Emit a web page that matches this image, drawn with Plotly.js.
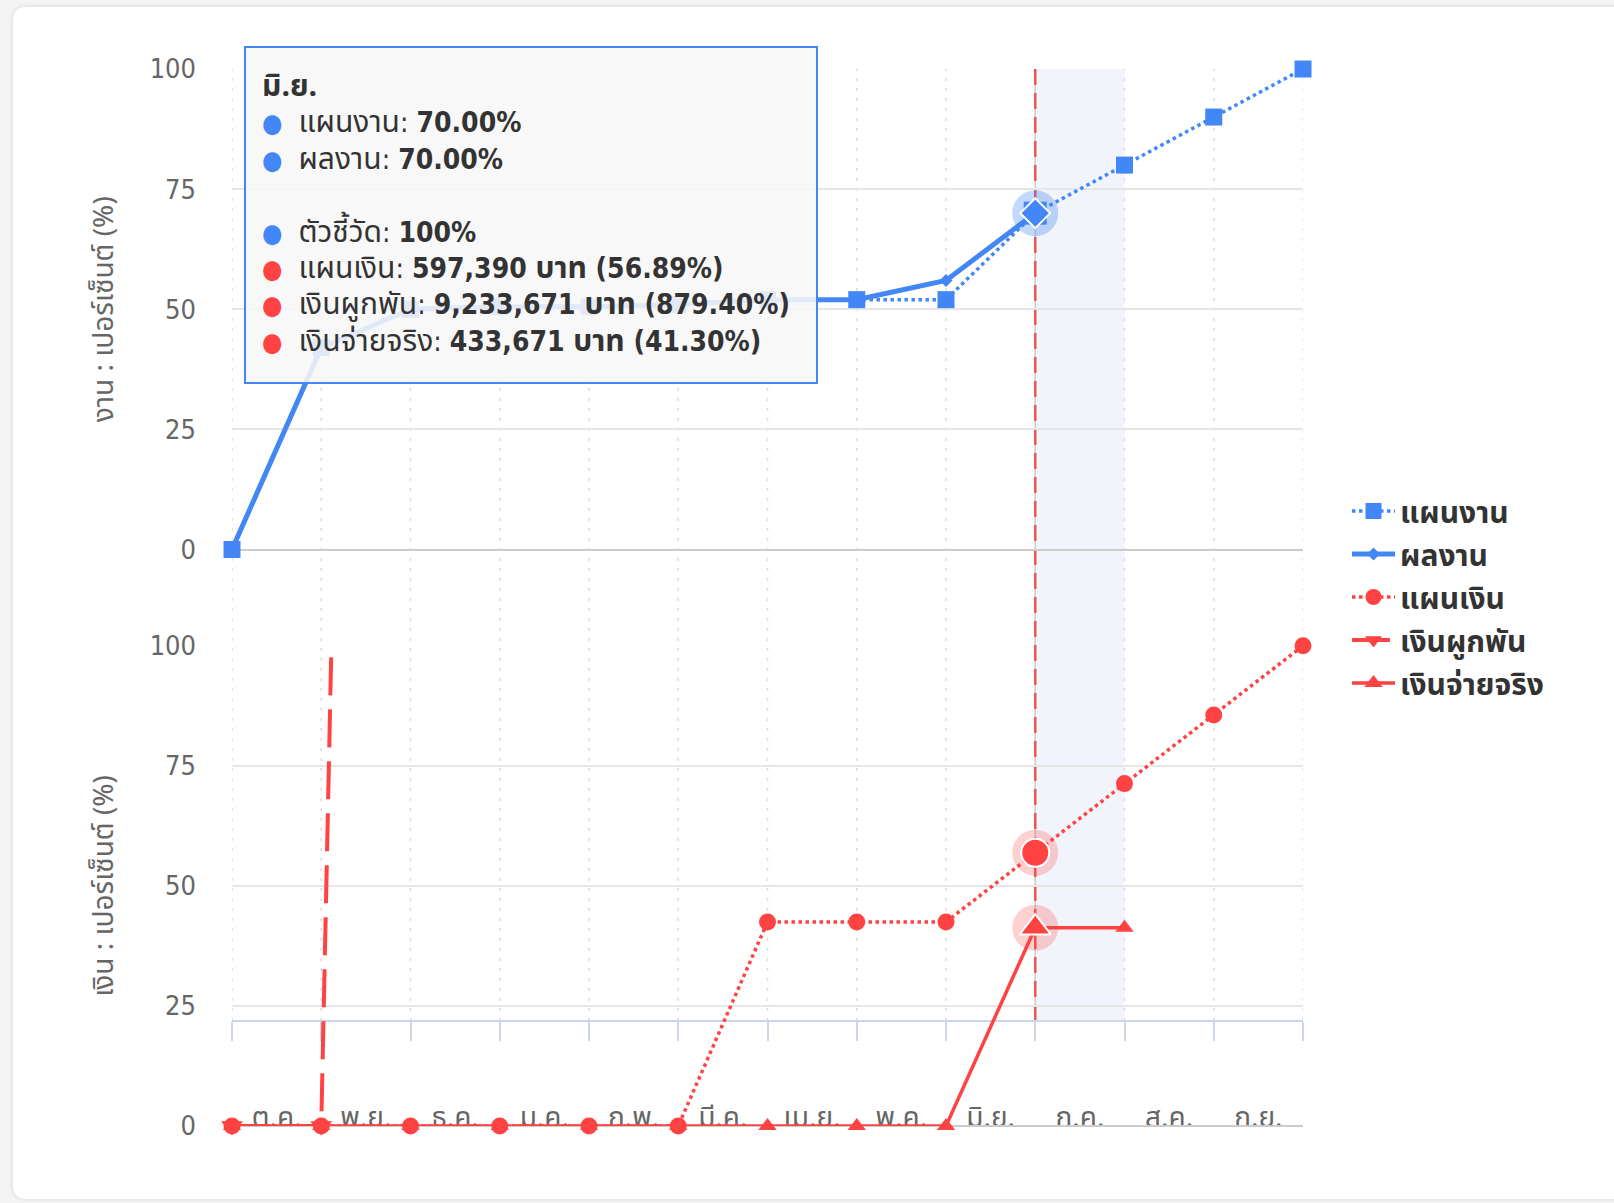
<!DOCTYPE html>
<html><head><meta charset="utf-8">
<script src="https://cdn.plot.ly/plotly-3.0.1.min.js"></script>
<style>
html,body{margin:0;padding:0;background:#f4f4f4;overflow:hidden;}
#card{position:absolute;left:13px;top:7px;width:1660px;height:1192px;background:#fff;border-radius:12px;box-shadow:0 0 5px rgba(0,0,0,0.13);}
#chart{position:absolute;left:0;top:0;width:1614px;height:1203px;}
</style></head><body>
<div id="card"></div><div id="chart"></div>
<script>
// ---- data ----
const months = ['ต.ค.','พ.ย.','ธ.ค.','ม.ค.','ก.พ.','มี.ค.','เม.ย.','พ.ค.','มิ.ย.','ก.ค.','ส.ค.','ก.ย.'];
const steps = [0,1,2,3,4,5,6,7,8,9,10,11,12];
const workPlan   = [0,42,50,50.5,50.5,51,52,52,52,70,80,90,100];
const workActual = [0,42,50,50.5,50.5,51,52,52,56,70];
const moneyPlan      = [0,0,0,0,0,0,42.5,42.5,42.5,56.89,71.3,85.6,100];
const moneyCommitted = [0,0,879.4,879.4,879.4,879.4,879.4,879.4,879.4,879.4];
const moneyPaid      = [0,0,0,0,0,0,0,0,0,41.3,41.3];
const yTicks = [0,25,50,75,100];
const seriesNames = ['แผนงาน','ผลงาน','แผนเงิน','เงินผูกพัน','เงินจ่ายจริง'];
const hoverIndex = 9;
const tipMonth = 'มิ.ย.';
const tipIndicatorLabel = 'ตัวชี้วัด';
const tipIndicator = 100;
const tipMoneyPlanBaht = 597390;
const tipCommittedBaht = 9233671;
const tipPaidBaht = 433671;
const currency = 'บาท';

// ---- geometry helpers ----
const L=232, R=1303, T=69, B=1126;
const px2x = p => (p-L)/(R-L);
const px2y = p => (B-p)/(B-T);
const BLUE='#4287f5', RED='#ff4242';
const FONT="'DejaVu Sans Condensed', 'DejaVu Sans', 'Noto Sans Thai', Tahoma, 'Noto Sans', sans-serif";
const THAI="'Noto Sans Thai', Tahoma, 'Noto Sans', sans-serif";

const traces = [
  {name:seriesNames[0], x:steps, y:workPlan, yaxis:'y', mode:'lines+markers', cliponaxis:false,
   line:{color:BLUE,width:3.5,dash:'dot'}, marker:{symbol:'square',size:17,color:BLUE},
   legendrank:1, legendgroup:'a'},
  {name:seriesNames[1], x:steps.slice(0,workActual.length), y:workActual, yaxis:'y', mode:'lines+markers', cliponaxis:false,
   line:{color:BLUE,width:5}, marker:{symbol:'diamond',size:10,color:BLUE},
   legendrank:2, legendgroup:'b'},
  {x:[steps[hoverIndex]], y:[workActual[hoverIndex]], yaxis:'y', mode:'markers', cliponaxis:false, showlegend:false,
   marker:{symbol:'circle',size:46,color:'rgba(66,135,245,0.32)'}, hoverinfo:'skip'},
  {x:[steps[hoverIndex]], y:[workPlan[hoverIndex]], yaxis:'y', mode:'markers', cliponaxis:false, showlegend:false,
   marker:{symbol:'square',size:23,color:BLUE}, hoverinfo:'skip'},
  {x:[steps[hoverIndex]], y:[workActual[hoverIndex]], yaxis:'y', mode:'markers', cliponaxis:false, showlegend:false,
   marker:{symbol:'diamond',size:23,color:BLUE,line:{color:'#fff',width:2}}, hoverinfo:'skip'},

  {name:seriesNames[4], x:steps.slice(0,moneyPaid.length), y:moneyPaid, yaxis:'y2', mode:'lines+markers', cliponaxis:false,
   line:{color:RED,width:3.5}, marker:{symbol:'triangle-up',size:16,color:RED},
   legendrank:5, legendgroup:'e'},
  {name:seriesNames[2], x:steps, y:moneyPlan, yaxis:'y2', mode:'lines+markers', cliponaxis:false,
   line:{color:RED,width:3.5,dash:'dot'}, marker:{symbol:'circle',size:17,color:RED},
   legendrank:3, legendgroup:'c'},
  {name:seriesNames[3], x:steps.slice(0,moneyCommitted.length), y:moneyCommitted, yaxis:'y2', mode:'lines+markers', cliponaxis:true,
   line:{color:RED,width:4,dash:'38px,14px'}, marker:{symbol:'triangle-down',size:15,color:RED},
   legendrank:4, legendgroup:'d'},
  {x:steps.slice(0,moneyCommitted.length), y:moneyCommitted.map(v => v<=100 ? v : null), yaxis:'y2', mode:'markers', cliponaxis:false, showlegend:false,
   marker:{symbol:'triangle-down',size:19,color:RED}, hoverinfo:'skip'},
  {x:[steps[hoverIndex],steps[hoverIndex]], y:[moneyPlan[hoverIndex],moneyPaid[hoverIndex]], yaxis:'y2', mode:'markers', cliponaxis:false, showlegend:false,
   marker:{symbol:'circle',size:46,color:'rgba(255,66,66,0.25)'}, hoverinfo:'skip'},
  {x:[steps[hoverIndex]], y:[moneyPlan[hoverIndex]], yaxis:'y2', mode:'markers', cliponaxis:false, showlegend:false,
   marker:{symbol:'circle',size:28,color:RED,line:{color:'#fff',width:2}}, hoverinfo:'skip'},
  {x:[steps[hoverIndex]], y:[moneyPaid[hoverIndex]], yaxis:'y2', mode:'markers', cliponaxis:false, showlegend:false,
   marker:{symbol:'triangle-up',size:27,color:RED,line:{color:'#fff',width:2}}, hoverinfo:'skip'}
];

// shapes: band, vertical dotted grid, crosshair
const shapes = [];
shapes.push({type:'rect', xref:'x', yref:'paper', x0:steps[hoverIndex], x1:steps[hoverIndex+1],
  y0:px2y(1021), y1:px2y(T), fillcolor:'#f1f4fa', line:{width:0}, layer:'below'});
steps.forEach(s => {
  shapes.push({type:'line', xref:'x', yref:'paper', x0:s, x1:s, y0:px2y(1021), y1:px2y(T),
    line:{color:'#dcdcdc', width:1.5, dash:'3px,7px'}, layer:'below'});
});
shapes.push({type:'line', xref:'x', yref:'paper', x0:steps[hoverIndex], x1:steps[hoverIndex], y0:px2y(1021), y1:px2y(T),
  line:{color:'#cccccc', width:1.5}, layer:'below'});
shapes.push({type:'line', xref:'x', yref:'paper', x0:steps[hoverIndex], x1:steps[hoverIndex], y0:px2y(1021), y1:px2y(T),
  line:{color:'rgba(240,60,60,0.85)', width:2.5, dash:'16px,8px'}, layer:'below'});

const fmt = n => n.toLocaleString('en-US');
const dot = c => `<span style="color:${c};font-size:26px">●</span>`;
const th = s => `<span style="font-family:${THAI.replace(/'/g,'')};font-size:30px">${s}</span>`;
const tipText = [
  `<b>${th(tipMonth)}</b>`,
  `${dot(BLUE)}  ${th(seriesNames[0])}: <b>${workPlan[hoverIndex].toFixed(2)}%</b>`,
  `${dot(BLUE)}  ${th(seriesNames[1])}: <b>${workActual[hoverIndex].toFixed(2)}%</b>`,
  ``,
  `${dot(BLUE)}  ${th(tipIndicatorLabel)}: <b>${tipIndicator}%</b>`,
  `${dot(RED)}  ${th(seriesNames[2])}: <b>${fmt(tipMoneyPlanBaht)} ${th(currency)} (${moneyPlan[hoverIndex].toFixed(2)}%)</b>`,
  `${dot(RED)}  ${th(seriesNames[3])}: <b>${fmt(tipCommittedBaht)} ${th(currency)} (${moneyCommitted[hoverIndex].toFixed(2)}%)</b>`,
  `${dot(RED)}  ${th(seriesNames[4])}: <b>${fmt(tipPaidBaht)} ${th(currency)} (${moneyPaid[hoverIndex].toFixed(2)}%)</b>`
].join('<br>');

const axisY = (dom, title) => ({
  domain:dom, range:[0,100], anchor:'free', position:0,
  tickmode:'array', tickvals:yTicks, ticks:'', ticklabelstandoff:36,
  tickfont:{size:27, color:'#666', family:FONT},
  showgrid:true, gridcolor:'#e6e6e6', gridwidth:2,
  zeroline:true, zerolinecolor:'#cccccc', zerolinewidth:2,
  showline:false, fixedrange:true,
  title:{text:title, font:{size:28, color:'#666', family:THAI}, standoff:26}
});

const layout = {
  width:1614, height:1203,
  margin:{l:L, r:1614-R, t:T, b:1203-B},
  paper_bgcolor:'rgba(0,0,0,0)', plot_bgcolor:'rgba(0,0,0,0)',
  font:{family:FONT, color:'#333'},
  showlegend:true,
  legend:{x:px2x(1347), xanchor:'left', y:px2y(485), yanchor:'top', itemwidth:43,
    font:{size:30, color:'#333', family:THAI, weight:'bold'}, tracegroupgap:1,
    bgcolor:'rgba(0,0,0,0)', itemclick:false},
  xaxis:{domain:[0,1], range:[steps[0], steps[steps.length-1]], anchor:'free', position:px2y(1021),
    tickmode:'array', tickvals:months.map((m,i)=>steps[i]+0.5), ticktext:months, ticks:'',
    ticklabelstandoff:71, tickfont:{size:28, color:'#666', family:THAI},
    showline:true, linecolor:'#ccd6eb', linewidth:2, showgrid:false, zeroline:false, fixedrange:true,
    minor:{tickmode:'array', tickvals:steps, ticks:'outside', ticklen:19, tickwidth:2, tickcolor:'#ccd6eb', showgrid:false}},
  yaxis:axisY([(B-549.5)/(B-T),1], 'งาน : เปอร์เซ็นต์ (%)'),
  yaxis2:axisY([0,(B-645.8)/(B-T)], 'เงิน : เปอร์เซ็นต์ (%)'),
  shapes:shapes,
  annotations:[{
    xref:'paper', yref:'paper', x:px2x(244), y:px2y(46), xanchor:'left', yanchor:'top',
    text:tipText, showarrow:false, align:'left', valign:'top',
    width:538, height:302, borderpad:16,
    bgcolor:'rgba(247,247,247,0.88)', bordercolor:BLUE, borderwidth:2,
    font:{size:28, color:'#333', family:FONT}
  }],
  hovermode:false
};

Plotly.newPlot('chart', traces, layout, {displayModeBar:false, staticPlot:true});
</script>
</body></html>
